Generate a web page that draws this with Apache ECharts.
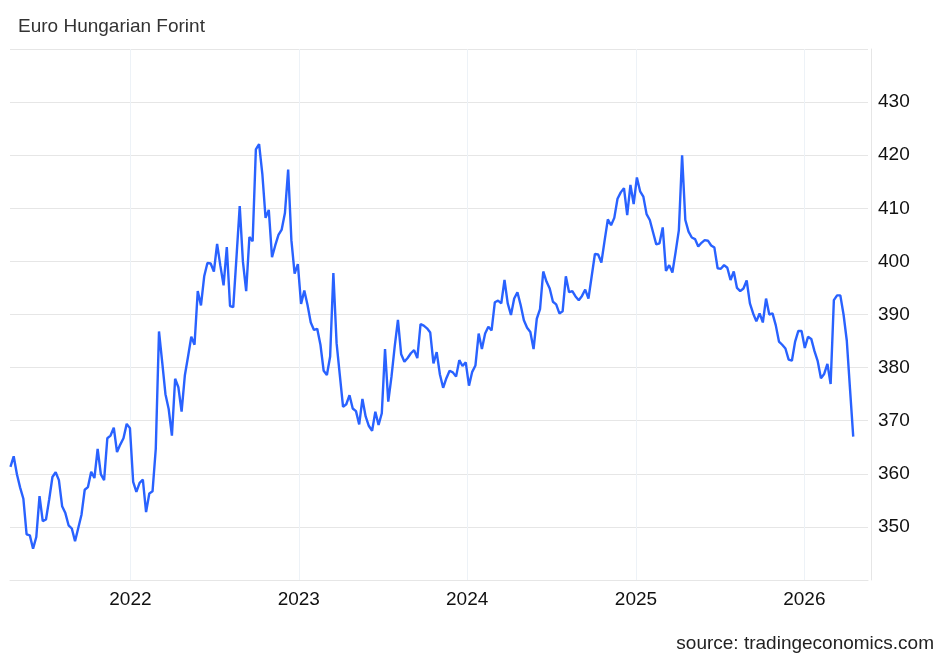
<!DOCTYPE html>
<html>
<head>
<meta charset="utf-8">
<title>Euro Hungarian Forint</title>
<script src="https://cdn.jsdelivr.net/npm/echarts@6/dist/echarts.min.js"></script>
<style>
  html, body { margin: 0; padding: 0; background: #ffffff; }
  #chart { width: 948px; height: 657px; }
</style>
</head>
<body>
<div id="chart"></div>
<script>
// weekly closes, first point on startDate, one value per week
const startDate = [2021, 3, 16];
const values2021 = [
  361.3, 363.3, 359.9, 357.4, 355.3, 348.6, 348.4, 345.9, 348.1, 355.8,
  351.1, 351.4, 355.2, 359.4, 360.3, 358.8, 353.9, 352.6, 350.3, 349.7,
  347.3, 349.8, 352.3, 357.0, 357.5, 360.4, 359.2, 364.7, 359.9, 358.8,
  366.7, 367.2, 368.7, 364.1, 365.5, 366.7, 369.4, 368.6
];
const values2022 = [
  358.5, 356.6, 358.3, 358.9, 352.8, 356.3, 356.7, 364.7, 386.8, 381.0,
  375.0, 372.2, 367.2, 377.9, 376.3, 371.7, 378.5, 382.1, 385.8, 384.3,
  394.4, 391.7, 397.2, 399.7, 399.6, 398.1, 403.3, 399.2, 395.5, 402.7,
  391.6, 391.4, 400.8, 410.4, 399.9, 394.4, 404.6, 403.8, 421.1, 422.1,
  416.5, 408.2, 409.7, 400.8, 403.0, 405.0, 406.0, 409.1, 417.3, 404.0,
  397.7, 399.5
];
const values2023 = [
  392.0, 394.5, 391.8, 388.5, 387.1, 387.3, 384.3, 379.4, 378.6, 382.1,
  397.8, 384.6, 378.6, 372.6, 373.1, 374.8, 372.3, 371.8, 369.3, 374.1,
  370.8, 369.0, 368.1, 371.7, 369.2, 371.4, 383.5, 373.6, 378.3, 384.0,
  389.0, 382.5, 381.1, 381.8, 382.7, 383.3, 381.8, 388.2, 387.9, 387.4,
  386.6, 380.8, 382.9, 378.7, 376.2, 378.0, 379.4, 379.1, 378.3, 381.4,
  380.3, 381.0
];
const values2024 = [
  376.6, 379.2, 380.4, 386.4, 383.5, 386.4, 387.7, 387.0, 392.3, 392.6,
  392.1, 396.5, 392.1, 389.9, 393.0, 394.2, 391.8, 388.9, 387.5, 386.7,
  383.5, 389.2, 391.0, 398.1, 396.2, 394.9, 392.4, 391.9, 390.2, 390.6,
  397.2, 394.2, 394.4, 393.4, 392.7, 393.5, 394.7, 393.0, 397.2, 401.4,
  401.3, 399.8, 403.9, 407.9, 406.8, 408.2, 411.8, 413.0, 413.8, 408.7,
  414.4, 410.8
];
const values2025 = [
  415.8, 413.2, 412.2, 408.9, 407.8, 405.5, 403.2, 403.4, 406.4, 398.2,
  399.3, 397.9, 401.8, 405.9, 420.0, 407.8, 405.6, 404.5, 404.2, 402.8,
  403.5, 404.0, 403.9, 403.0, 402.6, 398.7, 398.6, 399.3, 398.8, 396.5,
  398.1, 395.0, 394.4, 394.9, 396.4, 392.1, 390.2, 388.7, 390.2, 388.5,
  393.0, 390.0, 390.2, 388.0, 384.9, 384.3, 383.6, 381.5, 381.3, 384.9,
  386.9, 386.9
];
const values2026 = [
  383.7, 385.8, 385.4, 383.1, 381.2, 378.0, 378.8, 380.7, 376.9, 392.7,
  393.6, 393.6, 390.0, 385.1, 376.0, 367.0
];
const yTicks = [350, 360, 370, 380, 390, 400, 410, 420, 430];

const allValues = [].concat(values2021, values2022, values2023, values2024, values2025, values2026);
const DAY = 24 * 3600 * 1000;
const t0 = new Date(startDate[0], startDate[1], startDate[2]).getTime();
const seriesData = allValues.map((v, i) => [t0 + i * 7 * DAY, v]);

const chart = echarts.init(document.getElementById('chart'), null, { renderer: 'canvas' });

const font = '"Liberation Sans", Arial, sans-serif';

const option = {
  animation: false,
  backgroundColor: '#ffffff',
  title: [
    {
      text: 'Euro Hungarian Forint',
      left: 13,
      top: 12,
      textStyle: { fontFamily: font, fontSize: 19, fontWeight: 'normal', color: '#333333' }
    },
    {
      text: 'source: tradingeconomics.com',
      right: 9,
      top: 629,
      textStyle: { fontFamily: font, fontSize: 19, fontWeight: 'normal', color: '#222222' }
    }
  ],
  grid: {
    left: 10,
    right: 80,
    top: 49,
    bottom: 77,
    containLabel: false
  },
  xAxis: {
    type: 'time',
    min: new Date(2021, 3, 15).getTime(),
    max: new Date(2026, 4, 19).getTime(),
    minInterval: 365 * DAY,
    axisLine: { show: true, lineStyle: { color: '#e6e6e6', width: 1 } },
    axisTick: { show: false },
    splitLine: {
      show: true,
      showMinLine: false,
      showMaxLine: false,
      lineStyle: { color: '#edf2f7', width: 1 }
    },
    axisLabel: {
      fontFamily: font,
      fontSize: 19,
      color: '#111111',
      margin: 10,
      showMinLabel: false,
      showMaxLabel: false,
      formatter: function (val) {
        const d = new Date(val);
        if (d.getMonth() === 0 && d.getDate() === 1) return String(d.getFullYear());
        return '';
      }
    }
  },
  yAxis: {
    type: 'value',
    position: 'right',
    min: 340,
    max: 440,
    interval: 10,
    offset: 3,
    axisLine: { show: true, lineStyle: { color: '#e6e6e6', width: 1 } },
    axisTick: { show: false },
    splitLine: { show: true, lineStyle: { color: '#e6e6e6', width: 1 } },
    axisLabel: {
      fontFamily: font,
      fontSize: 19,
      color: '#111111',
      margin: 7,
      formatter: function (v) {
        return yTicks.indexOf(v) >= 0 ? String(v) : '';
      }
    }
  },
  series: [
    {
      name: 'EURHUF',
      type: 'line',
      data: seriesData,
      showSymbol: false,
      smooth: false,
      lineStyle: { color: '#2962ff', width: 2.4 },
      itemStyle: { color: '#2962ff' }
    }
  ]
};

chart.setOption(option);
</script>
</body>
</html>
